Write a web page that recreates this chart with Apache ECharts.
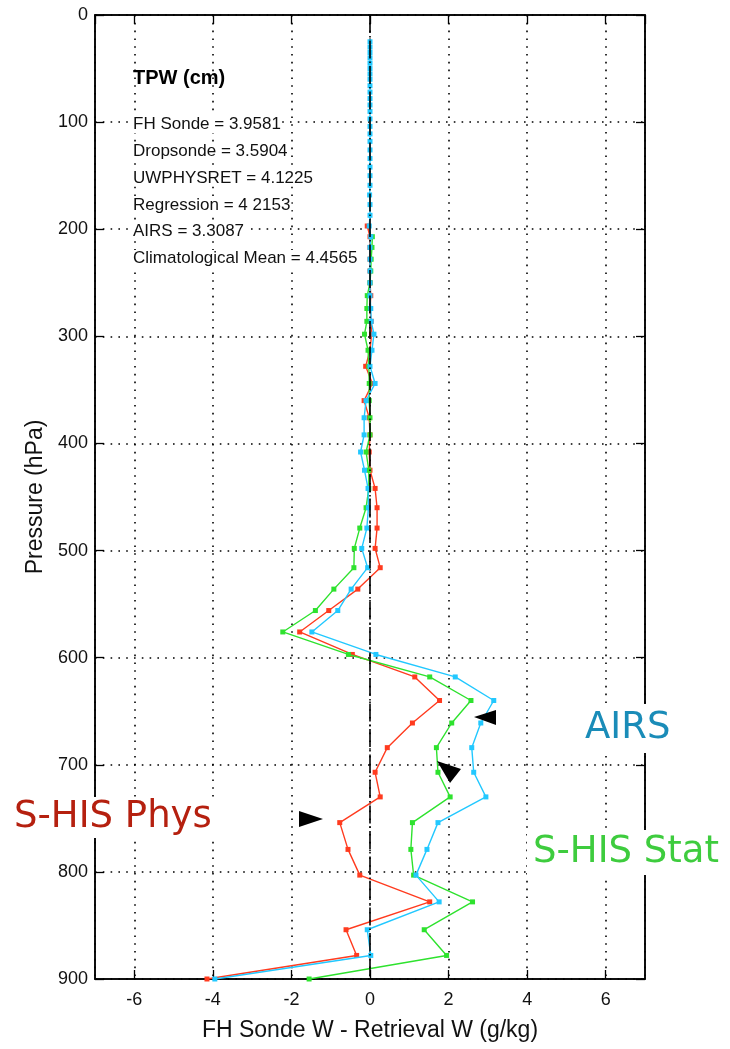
<!DOCTYPE html>
<html>
<head>
<meta charset="utf-8">
<script src="https://cdn.jsdelivr.net/npm/echarts@6/dist/echarts.min.js"></script>
<style>
html,body{margin:0;padding:0;background:#fff;}
#c{width:730px;height:1049px;}
</style>
</head>
<body>
<div id="c"></div>
<script>
// Pressure levels (hPa)
const pressureLevels = [25,30,35,40,45,50,55,60,66,72,78,84,90,97,104,111,118,126,134,142,
  150,159,168,177,187,197,207,217,228,239,250,262,274,286,298,313,328,344,360,376,
  392,408,425,442,460,479,498,516,536,556,576,597,618,640,661,684,707,730,754,779,
  803,828,854,878,900];

// FH Sonde W - Retrieval W (g/kg)
const shisPhys = [null,null,null,null,null,null,null,null,null,null,null,null,null,null,null,null,null,null,null,null,
  null,null,null,null,null,-0.07,0.0,0.0,0.0,0.0,0.0,0.02,0.0,0.03,0.04,0.0,-0.11,0.06,-0.15,-0.02,
  0.0,-0.02,0.0,0.13,0.18,0.18,0.13,0.26,-0.31,-1.05,-1.79,-0.45,1.14,1.77,1.08,0.44,0.13,0.26,-0.77,-0.56,
  -0.26,1.52,-0.61,-0.34,-4.15];

const shisStat = [null,null,null,null,null,null,null,null,null,null,null,null,null,null,null,null,null,null,null,null,
  null,null,null,null,null,null,0.06,0.05,0.03,0.02,0.0,-0.07,-0.08,-0.08,-0.14,-0.05,-0.03,-0.02,-0.02,0.0,
  0.0,-0.1,-0.03,-0.03,-0.1,-0.26,-0.40,-0.41,-0.92,-1.39,-2.22,-0.55,1.52,2.57,2.08,1.69,1.73,2.04,1.08,1.04,
  1.11,2.61,1.38,1.95,-1.55];

const airs = [0.0,0.0,0.0,0.0,0.0,0.0,0.0,0.0,0.0,0.0,0.0,0.0,0.0,0.0,0.0,0.0,0.0,0.0,0.0,0.0,
  0.0,0.0,-0.01,0.0,0.0,-0.02,0.02,0.0,0.0,0.0,0.0,0.0,0.02,0.03,0.1,0.05,0.0,0.13,-0.1,-0.15,
  -0.15,-0.24,-0.14,-0.05,-0.04,-0.08,-0.21,-0.06,-0.48,-0.82,-1.48,0.15,2.17,3.15,2.82,2.59,2.64,2.95,1.73,1.45,
  1.17,1.76,-0.07,0.02,-3.95];

const xTickValues = [-6,-4,-2,0,2,4,6];
const yTickValues = [0,100,200,300,400,500,600,700,800,900];

const tpwLines = ['FH Sonde = 3.9581','Dropsonde = 3.5904','UWPHYSRET = 4.1225','Regression = 4 2153','AIRS = 3.3087','Climatological Mean = 4.4565'];

function pairs(vals){
  const out=[];
  vals.forEach((v,i)=>{ if(v!==null) out.push([v,pressureLevels[i]]); });
  return out;
}

const chart = echarts.init(document.getElementById('c'), null, {renderer:'canvas'});
const FONT = '"Liberation Sans", Arial, sans-serif';
const gridLineStyle = {color:'#000', width:1.6, type:[1.6,6.2]};

const graphics = [];
graphics.push({type:'text', left:133, top:68, z:100, style:{text:'TPW (cm)', font:'bold 20px '+FONT, fill:'#000'}});
tpwLines.forEach((t,i)=>{
  graphics.push({type:'text', left:133, top:116+i*26.8, z:100,
    style:{text:t, font:'17px '+FONT, fill:'#111', backgroundColor:'#fff', padding:[0,1,0,0]}});
});
// annotation labels
graphics.push({type:'text', left:577, top:704, z:100, style:{text:'AIRS', font:'37px "DejaVu Sans", sans-serif', fill:'#1a8cb8', backgroundColor:'#fff', padding:[6,8,6,8]}});
graphics.push({type:'text', left:10, top:797, z:100, style:{text:'S-HIS Phys', font:'37px "DejaVu Sans", sans-serif', fill:'#b5200f', backgroundColor:'#fff', padding:[2,4,2,4]}});
graphics.push({type:'text', left:527, top:830, z:100, style:{text:'S-HIS Stat', font:'37px "DejaVu Sans", sans-serif', fill:'#3ecc3e', backgroundColor:'#fff', padding:[4,6,4,6]}});
// arrowheads
graphics.push({type:'polygon', z:100, shape:{points:[[474,717],[496,710],[496,725]]}, style:{fill:'#000'}});
graphics.push({type:'polygon', z:100, shape:{points:[[437,761],[461,769],[450,783]]}, style:{fill:'#000'}});
graphics.push({type:'polygon', z:100, shape:{points:[[323,819],[299,811],[299,827]]}, style:{fill:'#000'}});

const lineSeries = (name, vals, color, z) => ({
  name, type:'line', data:pairs(vals), xAxisIndex:0, yAxisIndex:0,
  symbol:'rect', symbolSize:5, showSymbol:true, z,
  lineStyle:{color, width:1.4}, itemStyle:{color}, animation:false
});

chart.setOption({
  animation:false,
  backgroundColor:'#fff',
  grid:{left:95, right:85, top:15, bottom:70, show:true, borderColor:'#000', borderWidth:1.5, backgroundColor:'transparent'},
  xAxis:[{
    type:'value', min:-7, max:7, splitNumber:7, position:'bottom',
    name:'FH Sonde W - Retrieval W (g/kg)', nameLocation:'middle', nameGap:40,
    nameTextStyle:{fontFamily:FONT, fontSize:23, color:'#111'},
    axisLine:{show:true, onZero:false, lineStyle:{color:'#000', width:1.5}},
    axisTick:{show:true, inside:true, length:9, lineStyle:{color:'#000', width:1.3}},
    axisLabel:{fontFamily:FONT, fontSize:18, color:'#111', margin:12, showMinLabel:false, showMaxLabel:false},
    splitLine:{show:true, lineStyle:gridLineStyle}
  },{
    type:'value', min:-7, max:7, splitNumber:7, position:'top',
    axisLine:{show:true, onZero:false, lineStyle:{color:'#000', width:1.5}},
    axisTick:{show:true, inside:true, length:9, lineStyle:{color:'#000', width:1.3}},
    axisLabel:{show:false}, splitLine:{show:false}
  }],
  yAxis:[{
    type:'value', min:0, max:900, interval:100, inverse:true, position:'left',
    name:'Pressure (hPa)', nameLocation:'middle', nameGap:46,
    nameTextStyle:{fontFamily:FONT, fontSize:23, color:'#111'},
    axisLine:{show:true, onZero:false, lineStyle:{color:'#000', width:1.5}},
    axisTick:{show:true, inside:true, length:9, lineStyle:{color:'#000', width:1.3}},
    axisLabel:{fontFamily:FONT, fontSize:18, color:'#111', margin:7},
    splitLine:{show:true, lineStyle:gridLineStyle}
  },{
    type:'value', min:0, max:900, interval:100, inverse:true, position:'right',
    axisLine:{show:true, onZero:false, lineStyle:{color:'#000', width:1.5}},
    axisTick:{show:true, inside:true, length:9, lineStyle:{color:'#000', width:1.3}},
    axisLabel:{show:false}, splitLine:{show:false}
  }],
  series:[
    lineSeries('S-HIS Phys', shisPhys, '#ff3b1f', 3),
    lineSeries('S-HIS Stat', shisStat, '#2ee22e', 4),
    lineSeries('AIRS', airs, '#22c8ff', 5),
    {type:'line', name:'zero', data:[[0,0],[0,900]], symbol:'none', z:6, silent:true,
     lineStyle:{color:'#000', width:1.6, type:[18,3,1.5,3]}}
  ],
  graphic:graphics
});
</script>
</body>
</html>
